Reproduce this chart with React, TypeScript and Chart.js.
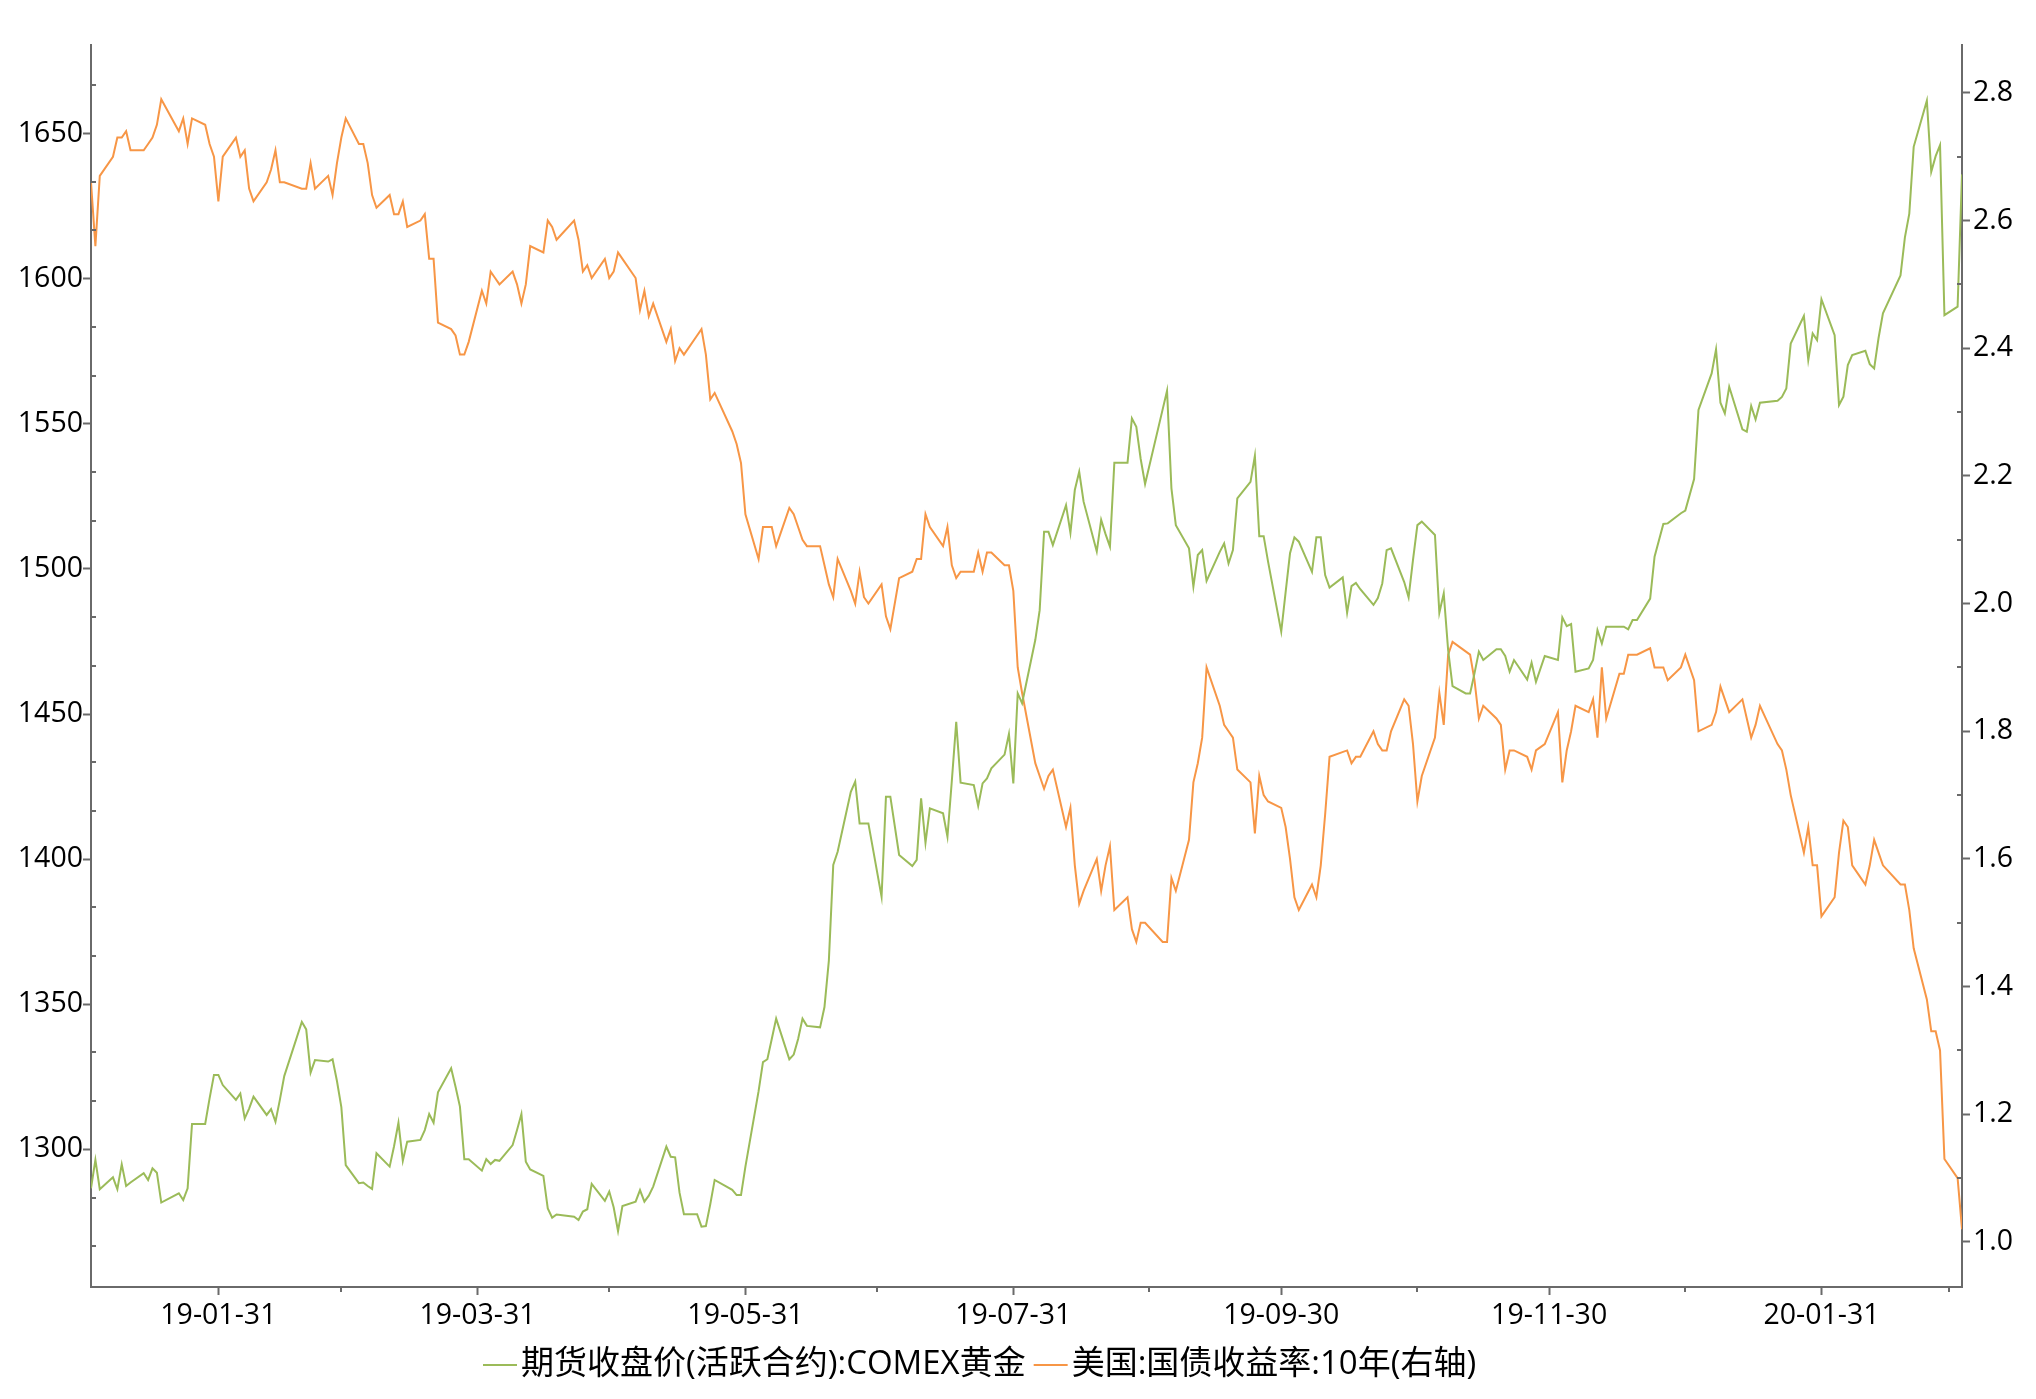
import React, { useEffect, useRef } from "react";
import { Chart, registerables } from "chart.js";

Chart.register(...registerables);

// ---------- data ----------
const dates = [
  "2019-01-02","2019-01-03","2019-01-04","2019-01-07","2019-01-08","2019-01-09","2019-01-10","2019-01-11","2019-01-14","2019-01-15","2019-01-16","2019-01-17","2019-01-18","2019-01-22","2019-01-23","2019-01-24","2019-01-25","2019-01-28","2019-01-29","2019-01-30","2019-01-31",
  "2019-02-01","2019-02-04","2019-02-05","2019-02-06","2019-02-07","2019-02-08","2019-02-11","2019-02-12","2019-02-13","2019-02-14","2019-02-15","2019-02-19","2019-02-20","2019-02-21","2019-02-22","2019-02-25","2019-02-26","2019-02-27","2019-02-28",
  "2019-03-01","2019-03-04","2019-03-05","2019-03-06","2019-03-07","2019-03-08","2019-03-11","2019-03-12","2019-03-13","2019-03-14","2019-03-15","2019-03-18","2019-03-19","2019-03-20","2019-03-21","2019-03-22","2019-03-25","2019-03-26","2019-03-27","2019-03-28","2019-03-29",
  "2019-04-01","2019-04-02","2019-04-03","2019-04-04","2019-04-05","2019-04-08","2019-04-09","2019-04-10","2019-04-11","2019-04-12","2019-04-15","2019-04-16","2019-04-17","2019-04-18","2019-04-22","2019-04-23","2019-04-24","2019-04-25","2019-04-26","2019-04-29","2019-04-30",
  "2019-05-01","2019-05-02","2019-05-03","2019-05-06","2019-05-07","2019-05-08","2019-05-09","2019-05-10","2019-05-13","2019-05-14","2019-05-15","2019-05-16","2019-05-17","2019-05-20","2019-05-21","2019-05-22","2019-05-23","2019-05-24","2019-05-28","2019-05-29","2019-05-30","2019-05-31",
  "2019-06-03","2019-06-04","2019-06-05","2019-06-06","2019-06-07","2019-06-10","2019-06-11","2019-06-12","2019-06-13","2019-06-14","2019-06-17","2019-06-18","2019-06-19","2019-06-20","2019-06-21","2019-06-24","2019-06-25","2019-06-26","2019-06-27","2019-06-28",
  "2019-07-01","2019-07-02","2019-07-03","2019-07-05","2019-07-08","2019-07-09","2019-07-10","2019-07-11","2019-07-12","2019-07-15","2019-07-16","2019-07-17","2019-07-18","2019-07-19","2019-07-22","2019-07-23","2019-07-24","2019-07-25","2019-07-26","2019-07-29","2019-07-30","2019-07-31",
  "2019-08-01","2019-08-02","2019-08-05","2019-08-06","2019-08-07","2019-08-08","2019-08-09","2019-08-12","2019-08-13","2019-08-14","2019-08-15","2019-08-16","2019-08-19","2019-08-20","2019-08-21","2019-08-22","2019-08-23","2019-08-26","2019-08-27","2019-08-28","2019-08-29","2019-08-30",
  "2019-09-03","2019-09-04","2019-09-05","2019-09-06","2019-09-09","2019-09-10","2019-09-11","2019-09-12","2019-09-13","2019-09-16","2019-09-17","2019-09-18","2019-09-19","2019-09-20","2019-09-23","2019-09-24","2019-09-25","2019-09-26","2019-09-27","2019-09-30",
  "2019-10-01","2019-10-02","2019-10-03","2019-10-04","2019-10-07","2019-10-08","2019-10-09","2019-10-10","2019-10-11","2019-10-14","2019-10-15","2019-10-16","2019-10-17","2019-10-18","2019-10-21","2019-10-22","2019-10-23","2019-10-24","2019-10-25","2019-10-28","2019-10-29","2019-10-30","2019-10-31",
  "2019-11-01","2019-11-04","2019-11-05","2019-11-06","2019-11-07","2019-11-08","2019-11-11","2019-11-12","2019-11-13","2019-11-14","2019-11-15","2019-11-18","2019-11-19","2019-11-20","2019-11-21","2019-11-22","2019-11-25","2019-11-26","2019-11-27","2019-11-29",
  "2019-12-02","2019-12-03","2019-12-04","2019-12-05","2019-12-06","2019-12-09","2019-12-10","2019-12-11","2019-12-12","2019-12-13","2019-12-16","2019-12-17","2019-12-18","2019-12-19","2019-12-20","2019-12-23","2019-12-24","2019-12-26","2019-12-27","2019-12-30","2019-12-31",
  "2020-01-02","2020-01-03","2020-01-06","2020-01-07","2020-01-08","2020-01-09","2020-01-10","2020-01-13","2020-01-14","2020-01-15","2020-01-16","2020-01-17","2020-01-21","2020-01-22","2020-01-23","2020-01-24","2020-01-27","2020-01-28","2020-01-29","2020-01-30","2020-01-31",
  "2020-02-03","2020-02-04","2020-02-05","2020-02-06","2020-02-07","2020-02-10","2020-02-11","2020-02-12","2020-02-13","2020-02-14","2020-02-18","2020-02-19","2020-02-20","2020-02-21","2020-02-24","2020-02-25","2020-02-26","2020-02-27","2020-02-28",
  "2020-03-02","2020-03-03",
];

// 期货收盘价(活跃合约):COMEX黄金 (left axis)
const goldClose = [
  1286.5,1296.3,1286.2,1290.3,1286.2,1294.8,1287.3,1288.5,1291.7,1289.4,1293.4,1291.9,1281.6,1284.8,1282.5,1286.5,1308.7,1308.7,1317.5,1325.6,1325.6,
  1322.1,1317.0,1319.2,1310.6,1314.0,1318.1,1311.8,1313.8,1309.5,1317.0,1325.2,1343.9,1341.3,1326.4,1330.7,1330.2,1331.0,1323.5,1314.5,
  1294.5,1288.3,1288.5,1287.3,1286.3,1298.6,1294.0,1301.0,1309.1,1296.0,1302.6,1303.2,1306.6,1312.1,1309.1,1319.6,1327.9,1321.5,1314.7,1296.5,1296.5,
  1292.6,1296.6,1294.9,1296.3,1296.0,1301.4,1306.6,1312.1,1295.7,1293.0,1290.8,1279.6,1276.4,1277.5,1276.7,1275.6,1278.5,1279.3,1288.0,1282.2,1285.4,
  1280.0,1271.8,1280.4,1281.9,1285.9,1281.9,1284.0,1287.1,1300.9,1297.4,1297.2,1285.0,1277.6,1277.6,1273.3,1273.5,1281.0,1289.4,1286.0,1284.2,1284.2,1294.0,
  1320.0,1330.0,1331.0,1338.0,1345.0,1331.0,1332.6,1338.0,1345.0,1342.5,1342.0,1349.0,1365.0,1398.0,1402.5,1423.2,1426.7,1412.3,1412.3,1412.3,
  1387.0,1421.5,1421.5,1401.4,1397.6,1399.7,1420.9,1405.6,1417.5,1415.8,1407.7,1427.0,1447.3,1426.3,1425.5,1418.3,1426.1,1427.8,1431.3,1436.0,1443.1,1426.1,
  1457.1,1453.7,1475.5,1485.8,1512.8,1512.8,1508.2,1522.0,1512.5,1527.2,1533.5,1523.2,1506.0,1516.9,1512.0,1507.7,1536.6,1536.6,1551.9,1549.0,1537.9,1529.3,
  1555.0,1561.4,1527.8,1515.1,1507.1,1493.9,1504.8,1506.5,1495.9,1505.9,1508.8,1501.9,1506.5,1524.3,1530.0,1539.0,1511.3,1511.3,1502.5,1478.4,
  1492.0,1505.4,1510.9,1509.4,1499.0,1510.9,1510.9,1497.9,1493.6,1497.1,1484.9,1494.1,1495.2,1493.0,1487.6,1490.0,1495.0,1506.5,1507.1,1495.5,1490.2,1503.1,1515.1,
  1516.3,1511.7,1484.9,1491.6,1472.0,1459.6,1457.1,1457.1,1464.0,1471.5,1468.6,1472.3,1472.3,1470.0,1464.6,1468.6,1461.9,1467.7,1461.1,1470.0,
  1468.6,1483.3,1480.3,1481.0,1464.6,1465.7,1468.6,1478.9,1474.3,1480.1,1480.1,1480.1,1479.2,1482.4,1482.4,1489.8,1504.2,1515.5,1515.7,1519.2,1520.1,
  1531.0,1554.8,1567.4,1575.7,1557.3,1553.6,1562.8,1548.1,1547.3,1556.2,1551.5,1557.3,1558.0,1559.3,1562.2,1577.7,1587.2,1572.0,1581.2,1578.9,1592.9,
  1580.6,1556.5,1559.4,1570.3,1573.7,1575.2,1570.6,1569.1,1579.6,1588.1,1601.2,1614.3,1622.5,1645.5,1661.4,1636.9,1642.3,1646.1,1587.5,
  1590.4,1636.0,
];

// 美国:国债收益率:10年 (right axis)
const ust10y = [
  2.66,2.56,2.67,2.70,2.73,2.73,2.74,2.71,2.71,2.72,2.73,2.75,2.79,2.74,2.76,2.72,2.76,2.75,2.72,2.70,2.63,
  2.70,2.73,2.70,2.71,2.65,2.63,2.66,2.68,2.71,2.66,2.66,2.65,2.65,2.69,2.65,2.67,2.64,2.69,2.73,
  2.76,2.72,2.72,2.69,2.64,2.62,2.64,2.61,2.61,2.63,2.59,2.60,2.61,2.54,2.54,2.44,2.43,2.42,2.39,2.39,2.41,
  2.49,2.47,2.52,2.51,2.50,2.52,2.50,2.47,2.50,2.56,2.55,2.60,2.59,2.57,2.60,2.57,2.52,2.53,2.51,2.54,2.51,
  2.52,2.55,2.54,2.51,2.46,2.49,2.45,2.47,2.41,2.43,2.38,2.40,2.39,2.42,2.43,2.39,2.32,2.33,2.27,2.25,2.22,2.14,
  2.07,2.12,2.12,2.12,2.09,2.15,2.14,2.12,2.10,2.09,2.09,2.06,2.03,2.01,2.07,2.02,2.00,2.05,2.01,2.00,
  2.03,1.98,1.96,2.04,2.05,2.07,2.07,2.14,2.12,2.09,2.12,2.06,2.04,2.05,2.05,2.08,2.05,2.08,2.08,2.06,2.06,2.02,
  1.90,1.86,1.75,1.73,1.71,1.73,1.74,1.65,1.68,1.59,1.53,1.55,1.60,1.55,1.59,1.62,1.52,1.54,1.49,1.47,1.50,1.50,
  1.47,1.47,1.57,1.55,1.63,1.72,1.75,1.79,1.90,1.84,1.81,1.80,1.79,1.74,1.72,1.64,1.73,1.70,1.69,1.68,
  1.65,1.60,1.54,1.52,1.56,1.54,1.59,1.67,1.76,null,1.77,1.75,1.76,1.76,1.80,1.78,1.77,1.77,1.80,1.85,1.84,1.78,1.69,
  1.73,1.79,1.86,1.81,1.92,1.94,null,1.92,1.88,1.82,1.84,1.82,1.81,1.74,1.77,1.77,1.76,1.74,1.77,1.78,
  1.83,1.72,1.77,1.80,1.84,1.83,1.85,1.79,1.90,1.82,1.89,1.89,1.92,1.92,1.92,1.93,1.90,1.90,1.88,1.90,1.92,
  1.88,1.80,1.81,1.83,1.87,1.85,1.83,1.85,1.82,1.79,1.81,1.84,1.78,1.77,1.74,1.70,1.61,1.65,1.59,1.59,1.51,
  1.54,1.61,1.66,1.65,1.59,1.56,1.59,1.63,1.61,1.59,1.56,1.56,1.52,1.46,1.38,1.33,1.33,1.30,1.13,
  1.10,1.02,
];

const seriesNames = ["期货收盘价(活跃合约):COMEX黄金", "美国:国债收益率:10年(右轴)"];
const xTickDates = ["2019-01-31", "2019-03-31", "2019-05-31", "2019-07-31", "2019-09-30", "2019-11-30", "2020-01-31"];
const xMinorTickDates = ["2019-02-28", "2019-04-30", "2019-06-30", "2019-08-31", "2019-10-31", "2019-12-31", "2020-02-29"];
const goldTicks = [1300, 1350, 1400, 1450, 1500, 1550, 1600, 1650];
const rateTicks = [1.0, 1.2, 1.4, 1.6, 1.8, 2.0, 2.2, 2.4, 2.6, 2.8];
const goldMinorTicks = [1266.67, 1283.33, 1316.67, 1333.33, 1366.67, 1383.33, 1416.67, 1433.33, 1466.67, 1483.33, 1516.67, 1533.33, 1566.67, 1583.33, 1616.67, 1633.33, 1666.67];
const rateMinorTicks = [1.1, 1.3, 1.5, 1.7, 1.9, 2.1, 2.3, 2.5, 2.7];

// ---------- style ----------
const W = 2036;
const H = 1399;
const GREEN = "#9BBB59";
const ORANGE = "#F79646";
const AXIS = "#6A6A6A";
const TICK_FONT = '"Open Sans", "Noto Sans", sans-serif';
const LEGEND_FONT = '"Open Sans", "Noto Sans CJK SC", sans-serif';

const DAY0 = Date.UTC(2019, 0, 2);
const dayIndex = (s: string) => {
  const [y, m, d] = s.split("-").map(Number);
  return Math.round((Date.UTC(y, m - 1, d) - DAY0) / 86400000);
};

const extrasPlugin = {
  id: "extras",
  afterDraw(chart: any) {
    const ctx = chart.ctx;
    const xs = chart.scales.x;
    const yl = chart.scales.yGold;
    const yr = chart.scales.yRate;
    const { left, right, bottom } = chart.chartArea;
    ctx.save();
    ctx.strokeStyle = AXIS;
    ctx.lineWidth = 2;
    ctx.beginPath();
    goldMinorTicks.forEach((v) => {
      const y = Math.round(yl.getPixelForValue(v));
      ctx.moveTo(left, y);
      ctx.lineTo(left + 5, y);
    });
    rateMinorTicks.forEach((v) => {
      const y = Math.round(yr.getPixelForValue(v));
      ctx.moveTo(right, y);
      ctx.lineTo(right - 5, y);
    });
    xMinorTickDates.forEach((s) => {
      const x = Math.round(xs.getPixelForValue(dayIndex(s)));
      ctx.moveTo(x, bottom);
      ctx.lineTo(x, bottom + 5);
    });
    ctx.stroke();

    // legend
    const items = [
      { label: seriesNames[0], color: GREEN },
      { label: seriesNames[1], color: ORANGE },
    ];
    ctx.font = `33px ${LEGEND_FONT}`;
    ctx.textBaseline = "middle";
    ctx.textAlign = "left";
    let x = 483;
    const y = 1365;
    items.forEach((it) => {
      ctx.strokeStyle = it.color;
      ctx.lineWidth = 2;
      ctx.beginPath();
      ctx.moveTo(x, y);
      ctx.lineTo(x + 34, y);
      ctx.stroke();
      x += 38;
      ctx.fillStyle = "#000";
      ctx.fillText(it.label, x, y);
      x += ctx.measureText(it.label).width + 8;
    });
    ctx.restore();
  },
};

export default function App() {
  const ref = useRef<HTMLCanvasElement | null>(null);

  useEffect(() => {
    if (!ref.current) return;
    const goldPts = dates.map((d, i) => ({ x: dayIndex(d), y: goldClose[i] }));
    const ratePts = dates.map((d, i) => ({ x: dayIndex(d), y: ust10y[i] }));
    const axisGrid = {
      display: true,
      drawOnChartArea: false,
      drawTicks: true,
      tickLength: 8,
      color: AXIS,
      tickColor: AXIS,
      tickWidth: 2,
    };
    const axisBorder = { display: true, color: AXIS, width: 2 };
    const tickFont = { family: TICK_FONT, size: 28.5 };

    const chart = new Chart(ref.current, {
      type: "line",
      data: {
        datasets: [
          {
            label: seriesNames[0],
            data: goldPts,
            yAxisID: "yGold",
            borderColor: GREEN,
            backgroundColor: GREEN,
            borderWidth: 2,
            pointRadius: 0,
            tension: 0,
            fill: false,
          },
          {
            label: seriesNames[1],
            data: ratePts,
            yAxisID: "yRate",
            borderColor: ORANGE,
            backgroundColor: ORANGE,
            borderWidth: 2,
            pointRadius: 0,
            tension: 0,
            fill: false,
            spanGaps: true,
          },
        ],
      },
      options: {
        animation: false,
        responsive: false,
        maintainAspectRatio: false,
        devicePixelRatio: 1,
        layout: { padding: { top: 45, left: 0, right: 0, bottom: 0 } },
        plugins: {
          legend: { display: false },
          tooltip: { enabled: false },
          title: { display: false },
        },
        scales: {
          x: {
            type: "linear",
            position: "bottom",
            min: 0,
            max: dayIndex("2020-03-03"),
            grid: axisGrid,
            border: axisBorder,
            afterBuildTicks: (scale: any) => {
              scale.ticks = xTickDates.map((s) => ({ value: dayIndex(s) }));
            },
            afterFit: (scale: any) => {
              scale.height = H - 1287;
            },
            ticks: {
              autoSkip: false,
              maxRotation: 0,
              minRotation: 0,
              padding: 4,
              color: "#000",
              font: tickFont,
              callback: (_v: any, i: number) => xTickDates[i].slice(2),
            },
          },
          yGold: {
            type: "linear",
            position: "left",
            min: 1252.5,
            max: 1680.6,
            grid: axisGrid,
            border: axisBorder,
            afterBuildTicks: (scale: any) => {
              scale.ticks = goldTicks.map((v) => ({ value: v }));
            },
            afterFit: (scale: any) => {
              scale.width = 91;
            },
            ticks: {
              padding: 0,
              color: "#000",
              font: tickFont,
              callback: (v: any) => String(v),
            },
          },
          yRate: {
            type: "linear",
            position: "right",
            min: 0.9295,
            max: 2.875,
            grid: axisGrid,
            border: axisBorder,
            afterBuildTicks: (scale: any) => {
              scale.ticks = rateTicks.map((v) => ({ value: v }));
            },
            afterFit: (scale: any) => {
              scale.width = W - 1962;
            },
            ticks: {
              padding: 3,
              color: "#000",
              font: tickFont,
              callback: (v: any) => Number(v).toFixed(1),
            },
          },
        },
      },
      plugins: [extrasPlugin],
    } as any);
    return () => chart.destroy();
  }, []);

  return (
    <div
      style={{
        position: "fixed",
        left: 0,
        top: 0,
        width: W,
        height: H,
        background: "#fff",
      }}
    >
      <canvas ref={ref} width={W} height={H} style={{ display: "block", width: W, height: H }} />
    </div>
  );
}
